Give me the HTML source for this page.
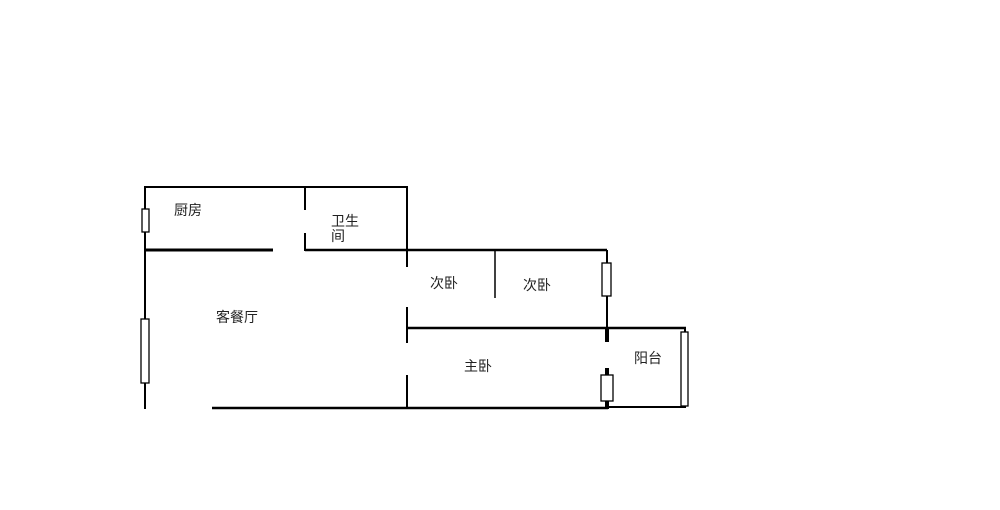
<!DOCTYPE html>
<html><head><meta charset="utf-8"><style>
html,body{margin:0;padding:0;background:#fff;}
svg text{font-family:"Liberation Sans","Noto Sans CJK SC",sans-serif;font-size:14px;fill:#222;}
</style></head><body>
<svg width="1000" height="505" viewBox="0 0 1000 505" xmlns="http://www.w3.org/2000/svg">
<g stroke="#000" fill="none" stroke-width="2">
<line x1="145" y1="187" x2="408" y2="187"/>
<line x1="145" y1="186" x2="145" y2="409"/>
<line x1="145" y1="250" x2="273" y2="250" stroke-width="3"/>
<line x1="305" y1="186" x2="305" y2="210"/>
<line x1="305" y1="233" x2="305" y2="251"/>
<line x1="305" y1="250" x2="607" y2="250" stroke-width="2.5"/>
<line x1="407" y1="186" x2="407" y2="267"/>
<line x1="407" y1="307" x2="407" y2="343"/>
<line x1="407" y1="375" x2="407" y2="409"/>
<line x1="495" y1="250" x2="495" y2="298" stroke-width="1.5"/>
<line x1="407" y1="328" x2="686" y2="328" stroke-width="2.5"/>
<line x1="212" y1="408" x2="608" y2="408" stroke-width="2.5"/>
<line x1="607" y1="250" x2="607" y2="328"/>
<line x1="607" y1="328" x2="607" y2="342" stroke-width="4"/>
<line x1="607" y1="368" x2="607" y2="409" stroke-width="4"/>
<line x1="607" y1="407" x2="686" y2="407"/>
<line x1="685" y1="327" x2="685" y2="408"/>
</g>
<g stroke="#000" fill="#fff" stroke-width="1.3">
<rect x="142" y="209" width="7" height="23"/>
<rect x="141" y="319" width="8" height="64"/>
<rect x="602" y="263" width="9" height="33"/>
<rect x="601" y="375" width="12" height="26"/>
<rect x="681" y="332" width="7" height="74"/>
</g>
<text x="174" y="215">厨房</text>
<text x="331" y="226">卫生</text>
<text x="331" y="241">间</text>
<text x="216" y="322">客餐厅</text>
<text x="430" y="288">次卧</text>
<text x="523" y="290">次卧</text>
<text x="464" y="371">主卧</text>
<text x="634" y="363">阳台</text>
</svg>
</body></html>
